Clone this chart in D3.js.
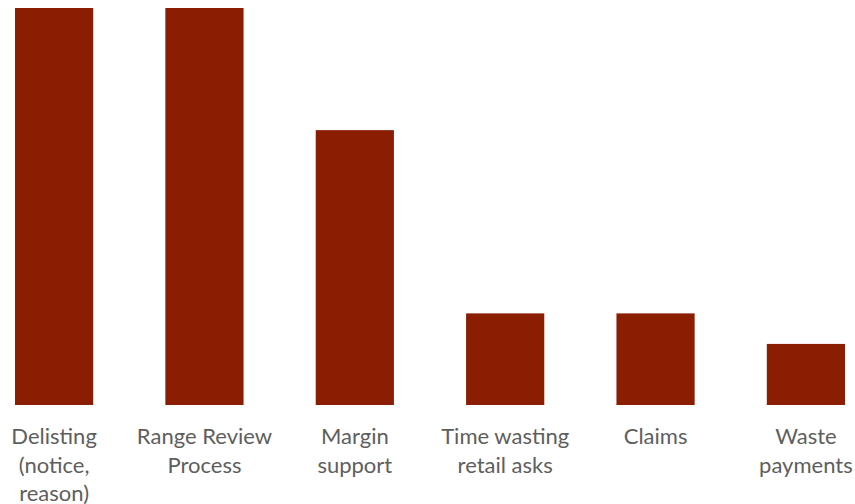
<!DOCTYPE html>
<html>
<head>
<meta charset="utf-8">
<script src="https://cdn.jsdelivr.net/npm/d3@7"></script>
<style>
  html, body { margin: 0; padding: 0; background: #ffffff; }
  svg { display: block; }
</style>
</head>
<body>
<svg id="chart" width="855" height="504"></svg>
<script>
// Categories and their counts
const categories = [
  "Delisting (notice, reason)",
  "Range Review Process",
  "Margin support",
  "Time wasting retail asks",
  "Claims",
  "Waste payments"
];
const values = [13, 13, 9, 3, 3, 2];

// How each category label breaks across lines
const labelLines = [
  ["Delisting", "(notice,", "reason)"],
  ["Range Review", "Process"],
  ["Margin", "support"],
  ["Time wasting", "retail asks"],
  ["Claims"],
  ["Waste", "payments"]
];

const svg = d3.select("#chart");

const x = d3.scaleBand()
  .domain(categories)
  .range([15, 845])
  .paddingInner(0.48)
  .paddingOuter(0);

const y = d3.scaleLinear()
  .domain([0, 13])
  .range([405, 8]);

// Bars
svg.append("g")
  .selectAll("rect")
  .data(categories)
  .join("rect")
  .attr("x", d => x(d))
  .attr("y", (d, i) => y(values[i]))
  .attr("width", x.bandwidth())
  .attr("height", (d, i) => y(0) - y(values[i]))
  .attr("fill", "#8a1d02");

// Category axis (no line, no ticks), labels wrapped onto several lines
const axis = svg.append("g")
  .attr("transform", `translate(0,${y(0)})`)
  .call(d3.axisBottom(x).tickSize(0).tickPadding(0));

axis.select(".domain").remove();

axis.selectAll(".tick text")
  .attr("fill", "#5e5e5e")
  .attr("font-family", "Lato, 'Open Sans', sans-serif")
  .attr("font-size", 22)
  .attr("dy", null)
  .attr("y", 0)
  .text(null)
  .each(function(d) {
    const lines = labelLines[categories.indexOf(d)];
    const t = d3.select(this);
    lines.forEach((line, k) => {
      t.append("tspan")
        .attr("x", 0)
        .attr("y", 39 + k * 28.5)
        .text(line);
    });
  });
</script>
</body>
</html>
